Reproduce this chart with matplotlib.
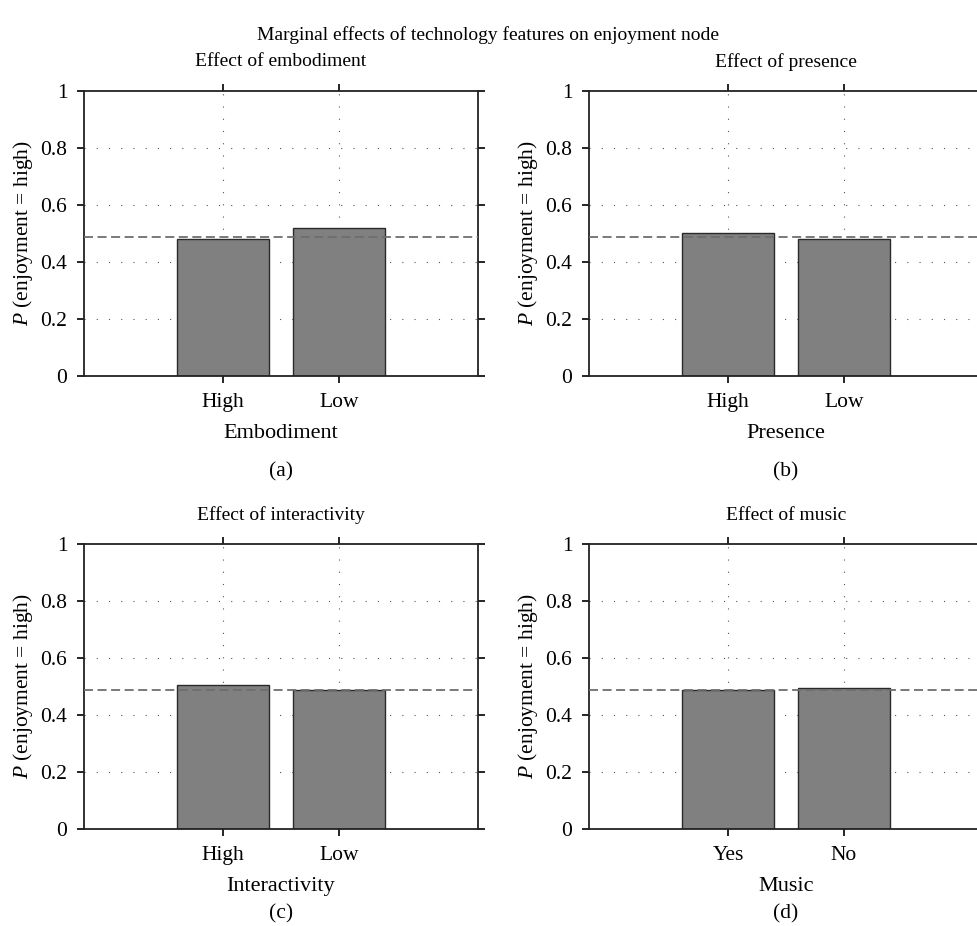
import numpy as np
import matplotlib
matplotlib.use("Agg")
import matplotlib.pyplot as plt

plt.rcParams.update({"font.size": 15.5, "font.family": "Liberation Serif",
                     "mathtext.fontset": "custom",
                     "mathtext.rm": "Liberation Serif",
                     "mathtext.it": "Liberation Serif:italic"})

# data
titles = ["Effect of embodiment", "Effect of presence", "Effect of interactivity", "Effect of music"]
xlabels = ["Embodiment", "Presence", "Interactivity", "Music"]
panel_tags = ["(a)", "(b)", "(c)", "(d)"]
cats_hl = ["High", "Low"]
cats_yn = ["Yes", "No"]
embodiment = [0.480, 0.518]
presence = [0.503, 0.480]
interactivity = [0.507, 0.489]
music = [0.489, 0.496]
baseline = 0.489
yticks = [0, 0.2, 0.4, 0.6, 0.8, 1]
ytick_labels = ["0", "0.2", "0.4", "0.6", "0.8", "1"]

panels = [(cats_hl, embodiment), (cats_hl, presence), (cats_hl, interactivity), (cats_yn, music)]

W, H = 977, 926
fig = plt.figure(figsize=(W/100, H/100), dpi=100)

# axes boxes in pixels: left, top
boxes = [(84, 91), (589, 91), (84, 544), (589, 544)]
aw, ah = 394, 285

fig.text(488/W, 1-35/H, "Marginal effects of technology features on enjoyment node",
         ha="center", va="center", fontsize=14)

for i, (cats, vals) in enumerate(panels):
    left, top = boxes[i]
    ax = fig.add_axes([left/W, 1-(top+ah)/H, aw/W, ah/H])
    x = np.arange(1, len(cats)+1)
    ax.bar(x, vals, width=0.8, color="#808080", edgecolor="#2a2a2a", linewidth=1.0, zorder=2)
    ax.axhline(baseline, color="#6e6e6e", linewidth=1.3, linestyle=(0, (5, 2.5)), zorder=3)
    ax.set_xlim(-0.2, 3.2)
    ax.set_ylim(0, 1)
    ax.set_xticks(x)
    ax.set_xticklabels(cats)
    ax.set_yticks(yticks)
    ax.set_yticklabels(ytick_labels)
    for y in yticks[1:-1]:
        ax.axhline(y, color="#555555", linewidth=0.8, linestyle=(0, (1, 10)), zorder=1)
    for xx in x:
        ax.axvline(xx, color="#555555", linewidth=0.8, linestyle=(0, (1, 10)), zorder=1)
    ax.tick_params(direction="out", length=5, width=1.2, top=True, right=True, pad=7)
    for s in ax.spines.values():
        s.set_linewidth(1.3)
        s.set_color("#222222")
    ax.set_ylabel("$P$ (enjoyment = high)", labelpad=4)
    ax.set_xlabel(xlabels[i], labelpad=9, fontsize=16)
    cx = (left + aw/2)/W
    fig.text(cx, 1-(top-29)/H, titles[i], ha="center", va="center", fontsize=14)
    tag_y = top + ah + (96 if top < 300 else 85)
    fig.text(cx, 1-tag_y/H, panel_tags[i], ha="center", va="center")

plt.savefig("out.png", dpi=100)
